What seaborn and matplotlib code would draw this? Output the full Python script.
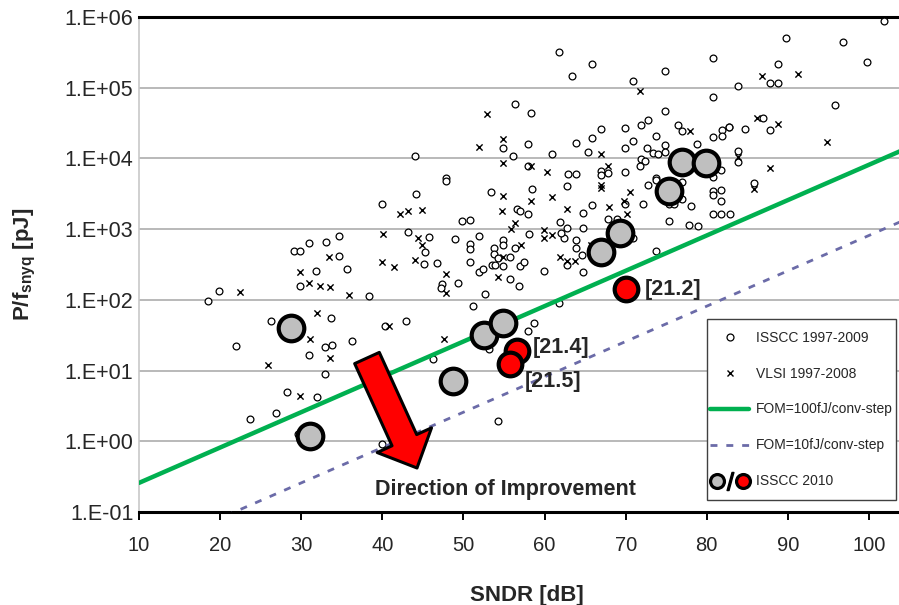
import numpy as np
import pandas as pd
import matplotlib
matplotlib.use('Agg')
import matplotlib.pyplot as plt
import seaborn as sns
from matplotlib.lines import Line2D
from matplotlib.patches import Rectangle
from matplotlib.legend_handler import HandlerTuple
from matplotlib.ticker import FixedLocator, FuncFormatter, NullLocator

# ISSCC 1997-2009 (SNDR in dB, log10 of P/fsnyq in pJ)
isscc_sndr = [56.4, 58.3, 54.9, 57.9, 56.1, 44.0, 57.9, 47.9,
              61.8, 63.4, 65.8, 70.9, 74.8, 80.8, 80.8, 74.8, 72.8, 71.9, 69.9, 66.9,
              65.8, 63.9, 70.9, 73.8, 76.4, 76.9, 81.9, 81.9, 80.8, 82.7, 78.8, 74.8,
              74.8, 72.6, 73.4, 74.0, 69.9, 65.3, 60.9, 71.9, 72.4, 71.8, 66.9, 66.9,
              67.8, 62.9, 63.9, 69.9, 80.8, 81.8, 73.8,
              101.8, 89.8, 96.8, 99.8, 88.8, 87.8, 88.8, 83.8, 95.8, 86.9, 87.8, 84.7,
              82.8, 83.8, 83.8,
              18.5, 19.9, 29.1, 29.9, 30.9, 33.1, 34.6, 34.6, 31.8, 29.9, 26.3, 33.7,
              21.9, 33.8,
              47.8, 44.1, 39.9, 53.4, 58.5, 56.6, 57.0, 57.9, 49.8, 50.8, 58.1, 43.2,
              45.7, 45.3, 48.9, 51.9, 50.8, 50.8, 54.9, 54.9, 53.8, 53.8, 56.4, 55.8,
              54.3, 53.5, 53.9, 54.9, 57.0, 57.5, 45.1, 46.8, 50.8, 51.9, 52.4, 55.8,
              56.8, 35.7, 49.3, 47.4, 47.2, 52.7, 38.3, 51.2, 40.3, 42.9, 36.3, 57.9,
              58.7,
              62.8, 64.8, 65.8, 69.9, 72.1, 72.7, 73.8, 76.9, 80.8, 80.8, 81.8, 81.8,
              76.9, 75.4, 75.9, 78.0, 80.8, 81.8, 77.8, 78.9, 75.3, 67.8, 68.9, 64.8,
              61.9, 62.8, 62.4, 62.0, 63.9, 63.9, 64.6, 62.8, 59.9, 64.8, 70.9, 73.8,
              61.8, 85.8, 82.9,
              30.9, 32.9, 32.9, 28.3, 31.9, 26.9, 23.7, 29.6,
              46.2, 53.1, 54.3, 39.9]
isscc_logp = [4.77, 4.64, 4.15, 4.20, 4.03, 4.04, 3.89, 3.72,
              5.50, 5.17, 5.34, 5.09, 5.24, 5.42, 4.87, 4.67, 4.55, 4.47, 4.43, 4.42,
              4.29, 4.22, 4.25, 4.32, 4.47, 4.39, 4.40, 4.32, 4.31, 4.44, 4.21, 4.19,
              4.09, 4.15, 4.07, 4.06, 4.15, 4.09, 4.06, 3.99, 3.97, 3.89, 3.82, 3.76,
              3.79, 3.78, 3.78, 3.81, 3.74, 3.83, 3.72,
              5.95, 5.70, 5.64, 5.36, 5.33, 5.07, 5.07, 5.02, 4.75, 4.57, 4.40, 4.41,
              4.44, 4.11, 3.95,
              1.98, 2.13, 2.69, 2.69, 2.80, 2.82, 2.90, 2.62, 2.41, 2.19, 1.70, 1.74,
              1.35, 1.36,
              3.68, 3.49, 3.36, 3.52, 3.57, 3.28, 3.25, 3.21, 3.12, 3.13, 2.93, 2.96,
              2.89, 2.67, 2.86, 2.91, 2.79, 2.72, 2.85, 2.78, 2.73, 2.65, 2.73, 2.61,
              2.59, 2.50, 2.49, 2.48, 2.48, 2.53, 2.51, 2.52, 2.54, 2.40, 2.44, 2.29,
              2.20, 2.44, 2.24, 2.23, 2.17, 2.08, 2.06, 1.91, 1.63, 1.70, 1.42, 1.56,
              1.67,
              3.61, 3.23, 3.34, 3.35, 3.35, 3.62, 3.69, 3.67, 3.54, 3.48, 3.55, 3.40,
              3.43, 3.36, 3.36, 3.33, 3.21, 3.21, 3.06, 3.05, 3.11, 3.15, 3.15, 3.02,
              3.10, 3.01, 2.87, 2.95, 2.84, 2.74, 2.63, 2.49, 2.41, 2.39, 2.87, 2.69,
              1.95, 3.65, 3.21,
              1.22, 1.33, 0.95, 0.69, 0.62, 0.40, 0.31, 0.10,
              1.16, 1.31, 0.29, -0.04]

# VLSI 1997-2008
vlsi_sndr = [52.9, 51.9, 54.9, 54.9, 58.3, 71.8, 77.9, 66.9, 67.8, 60.3,
             86.8, 91.3, 86.2, 88.8, 83.8, 94.8, 87.8,
             22.4, 33.4, 29.9, 30.9, 32.3, 33.5, 31.9, 31.1,
             42.2, 43.2, 44.9, 54.9, 58.3, 54.7, 55.9, 56.4, 40.1, 44.4, 44.9, 57.1,
             54.9, 39.9, 41.4, 44.0, 54.2, 47.9, 47.9, 35.9, 40.8, 47.6,
             60.9, 66.9, 66.9, 62.8, 67.9, 70.5, 69.8, 70.2, 59.9, 59.9, 60.9, 61.9,
             62.8, 63.8, 65.7, 85.8, 25.9, 33.6, 29.9]
vlsi_logp = [4.63, 4.16, 4.27, 3.94, 3.89, 4.95, 4.39, 4.06, 3.90, 3.81,
             5.16, 5.20, 4.57, 4.48, 4.02, 4.23, 3.86,
             2.11, 2.60, 2.39, 2.24, 2.19, 2.18, 1.81, 1.45,
             3.21, 3.25, 3.27, 3.47, 3.40, 3.26, 3.00, 3.08, 2.93, 2.87, 2.77, 2.77,
             2.61, 2.53, 2.47, 2.57, 2.33, 2.36, 2.10, 2.07, 1.63, 1.45,
             3.45, 3.63, 3.58, 3.28, 3.31, 3.53, 3.40, 3.22, 2.99, 2.87, 2.92, 2.61,
             2.55, 2.55, 2.77, 3.57, 1.08, 1.18, 0.64]

# ISSCC 2010
gray_sndr = [28.8, 31.1, 48.7, 52.5, 54.9, 67.0, 69.3, 75.4, 76.9, 79.9]
gray_logp = [1.60, 0.08, 0.85, 1.51, 1.67, 2.68, 2.94, 3.54, 3.95, 3.93]
red_sndr = [70.0, 56.6, 55.8]
red_logp = [2.15, 1.27, 1.09]
red_labels = ['[21.2]', '[21.4]', '[21.5]']

# FOM reference lines (end points)
fom_sndr = [10, 104]
fom100_p = [0.258, 12900]
fom10_p = [0.0258, 1290]

df_isscc = pd.DataFrame({'SNDR': isscc_sndr, 'P': np.power(10.0, isscc_logp)})
df_vlsi = pd.DataFrame({'SNDR': vlsi_sndr, 'P': np.power(10.0, vlsi_logp)})
df_gray = pd.DataFrame({'SNDR': gray_sndr, 'P': np.power(10.0, gray_logp)})
df_red = pd.DataFrame({'SNDR': red_sndr, 'P': np.power(10.0, red_logp), 'label': red_labels})
df_fom = pd.DataFrame({'SNDR': fom_sndr, 'FOM100': fom100_p, 'FOM10': fom10_p})

sns.set_theme(style='white')
plt.rcParams['font.family'] = ['Liberation Sans', 'DejaVu Sans']
plt.rcParams['mathtext.fontset'] = 'custom'
plt.rcParams['mathtext.rm'] = 'Liberation Sans'
plt.rcParams['mathtext.bf'] = 'Liberation Sans:bold'

green = '#00b050'
purple = '#6b6ba8'

fig = plt.figure(figsize=(8.99, 6.05), dpi=100)
ax = fig.add_axes([139 / 899, 93 / 605, 760 / 899, 495 / 605])
ax.set_yscale('log')

sns.scatterplot(data=df_isscc, x='SNDR', y='P', marker='o', s=24, color='white',
                edgecolor='black', linewidth=0.9, ax=ax, zorder=3)
sns.scatterplot(data=df_vlsi, x='SNDR', y='P', marker='x', s=20, color='black',
                linewidth=1.0, ax=ax, zorder=3)
sns.lineplot(data=df_fom, x='SNDR', y='FOM100', color=green, lw=3.2, ax=ax, zorder=4)
sns.lineplot(data=df_fom, x='SNDR', y='FOM10', color=purple, lw=2.0,
             linestyle=(0, (2.5, 3.2)), ax=ax, zorder=4)
sns.scatterplot(data=df_gray, x='SNDR', y='P', marker='o', s=340, color='#bfbfbf',
                edgecolor='black', linewidth=3, ax=ax, zorder=6)
sns.scatterplot(data=df_red, x='SNDR', y='P', marker='o', s=290, color='#ff0000',
                edgecolor='black', linewidth=3, ax=ax, zorder=6)

label_pos = {'[21.2]': (72.4, 142), '[21.4]': (58.6, 21.5), '[21.5]': (57.6, 7.0)}
for lab in red_labels:
    x, y = label_pos[lab]
    ax.text(x, y, lab, fontsize=15.5, fontweight='bold', ha='left', va='center', zorder=7)

ax.text(39.1, 0.205, 'Direction of Improvement', fontsize=15.5, fontweight='bold',
        ha='left', va='center', zorder=7)

# block arrow (figure pixels)
ax.annotate('', xy=(417, 605 - 468), xytext=(367, 605 - 358),
            xycoords='figure pixels', textcoords='figure pixels',
            arrowprops=dict(arrowstyle='simple,head_length=2.2,head_width=4.3,tail_width=1.95',
                            mutation_scale=10, fc='#ff0000', ec='black', lw=2.2,
                            shrinkA=0, shrinkB=0), zorder=5)

ax.set_xlim(10, 103.7)
ax.set_ylim(0.1, 1e6)
ax.xaxis.set_major_locator(FixedLocator(range(10, 101, 10)))
ax.yaxis.set_major_locator(FixedLocator([10.0 ** k for k in range(-1, 7)]))
ax.yaxis.set_minor_locator(NullLocator())
ax.yaxis.set_major_formatter(FuncFormatter(lambda v, p: '1.E%+03d' % int(round(np.log10(v)))))
ax.grid(axis='y', which='major', color='#a6a6a6', lw=1.1)
ax.grid(axis='x', visible=False)
ax.set_axisbelow(True)

ax.tick_params(axis='x', length=6, width=1.4, color='black', direction='out',
               labelsize=14.5, pad=11, bottom=True)
ax.tick_params(axis='y', length=0, labelsize=15.5, pad=4)

for s in ['top', 'bottom']:
    ax.spines[s].set_color('black')
    ax.spines[s].set_linewidth(2.2)
ax.spines['left'].set_color('#c8c8c8')
ax.spines['left'].set_linewidth(1.2)
ax.spines['right'].set_visible(False)

ax.set_xlabel('SNDR [dB]', fontsize=16, fontweight='bold')
ax.set_ylabel('P/f$_{\\mathbf{snyq}}$ [pJ]', fontsize=16, fontweight='bold')
ax.xaxis.set_label_coords(0.51, -0.168)
ax.xaxis.label.set_va('center')
ax.yaxis.set_label_coords(-0.15, 0.5)
ax.yaxis.label.set_va('center')

# legend box (frame drawn separately so the padding matches the original)
box = Rectangle((707 / 899, (605 - 500) / 605), 189 / 899, 181 / 605,
                transform=fig.transFigure, facecolor='white', edgecolor='#404040',
                lw=1.0, zorder=9, clip_on=False)
ax.add_patch(box)

h1 = Line2D([], [], marker='o', ls='', mfc='white', mec='black', ms=5, mew=0.9)
h2 = Line2D([], [], marker='x', ls='', color='black', ms=5, mew=1.0)
h3 = Line2D([], [], color=green, lw=3.2)
h4 = Line2D([], [], color=purple, lw=2.0, ls=(0, (2.5, 3.2)))
h5a = Line2D([], [], marker='o', ls='', mfc='#bfbfbf', mec='black', ms=10, mew=2.3)
h5s = Line2D([], [], marker='$/$', ls='', color='black', ms=13)
h5b = Line2D([], [], marker='o', ls='', mfc='#ff0000', mec='black', ms=10, mew=2.3)
leg = ax.legend([h1, h2, h3, h4, (h5a, h5s, h5b)],
                ['ISSCC 1997-2009', 'VLSI 1997-2008', 'FOM=100fJ/conv-step',
                 'FOM=10fJ/conv-step', 'ISSCC 2010'],
                handler_map={tuple: HandlerTuple(ndivide=None, pad=0)},
                loc='center', bbox_to_anchor=(801.5 / 899, (605 - 409.5) / 605),
                bbox_transform=fig.transFigure, frameon=False,
                fontsize=10, labelspacing=1.58, handlelength=2.8, handletextpad=0.5,
                borderpad=0.2, borderaxespad=0)
leg.set_zorder(10)

fig.savefig('out.png', dpi=100)
